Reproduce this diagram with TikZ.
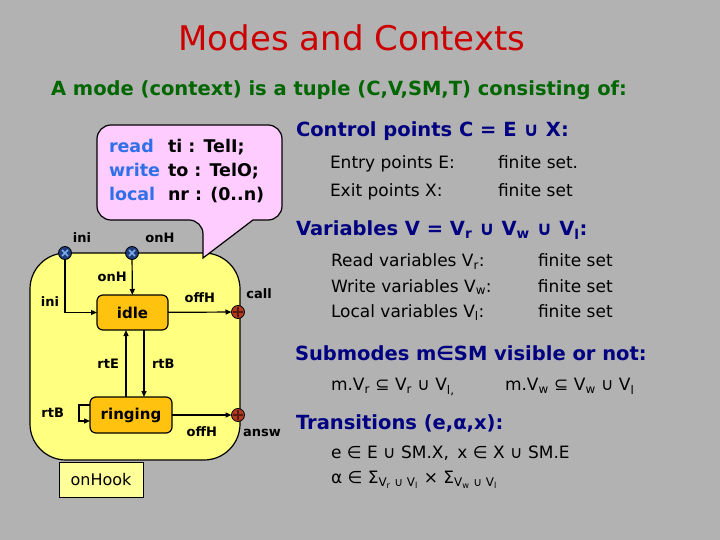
\documentclass[tikz,border=0pt]{standalone}
\usepackage{fontspec}
\setmainfont{DejaVu Sans}
\usepackage{xcolor}
\usetikzlibrary{arrows.meta, positioning}

\definecolor{slidegray}{HTML}{B2B2B2}
\definecolor{titlered}{HTML}{CC0000}
\definecolor{subgreen}{HTML}{006600}
\definecolor{headblue}{HTML}{000080}
\definecolor{keyblue}{HTML}{2F6FE8}
\definecolor{calloutpink}{HTML}{FFCCFF}
\definecolor{modeyellow}{HTML}{FFFF80}
\definecolor{stateorange}{HTML}{FFC20E}
\definecolor{hookyellow}{HTML}{FFFF99}
\definecolor{entrynavy}{HTML}{1F3D7A}
\definecolor{entrylight}{HTML}{7FAAE8}
\definecolor{exitred}{HTML}{B03A20}
\definecolor{exitdark}{HTML}{5A1A10}

\begin{document}
\begin{tikzpicture}[
        x=1pt, y=-1pt,
        every node/.style={inner sep=0pt, outer sep=0pt},
        modebox/.style={draw, line width=1.2pt, fill=modeyellow, rounded corners=36pt, minimum width=210pt, minimum height=207pt},
        statebox/.style={draw, line width=1.2pt, fill=stateorange, rounded corners=6pt, font=\fontsize{15pt}{18pt}\selectfont\bfseries},
        entry/.style={circle, draw, line width=0.8pt, fill=entrynavy, minimum size=13pt,
            path picture={\draw[entrylight, line width=1.6pt] (path picture bounding box.center) ++(-3pt,-3pt) -- ++(6pt,6pt) ++(-6pt,0) -- ++(6pt,-6pt);}},
        exit/.style={circle, draw, line width=0.8pt, fill=exitred, minimum size=13pt,
            path picture={\draw[exitdark, line width=1.4pt] (path picture bounding box.center) ++(-5pt,0) -- ++(10pt,0) ++(-5pt,-5pt) -- ++(0,10pt);}},
        lbl/.style={font=\fontsize{13pt}{15pt}\selectfont\bfseries},
        trans/.style={-{Triangle[length=6pt, width=5pt]}, line width=1.2pt},
        head/.style={anchor=west, text=headblue, font=\fontsize{19.5pt}{22pt}\selectfont\bfseries},
        body/.style={anchor=west, font=\fontsize{17pt}{20pt}\selectfont}
    ]
    \useasboundingbox[fill=slidegray] (0,0) rectangle (720,540);

    % Title
    \node[text=titlered, font=\fontsize{34pt}{40pt}\selectfont] (title) at (352,38) {Modes and Contexts};
    \node[text=subgreen, font=\fontsize{19.5pt}{22pt}\selectfont\bfseries] (subtitle) at (339,90) {A mode (context) is a tuple (C,V,SM,T) consisting of:};

    % Mode
    \node[modebox] (onHookMode) at (135,356.5) {};
    \node[draw, line width=0.6pt, fill=hookyellow, minimum width=84pt, minimum height=35pt, font=\fontsize{16pt}{18pt}\selectfont] (onHook) at (101,479.5) {onHook};

    \node[statebox, minimum width=71pt, minimum height=35pt] (idle) at (132.5,312.5) {idle};
    \node[statebox, minimum width=82pt, minimum height=36pt] (ringing) at (131,415) {ringing};

    \node[entry] (iniE) at (65,253) {};
    \node[entry] (onHE) at (132,253) {};
    \node[exit] (callX) at (238,312) {};
    \node[exit] (answX) at (238,415) {};

    \node[lbl] (iniL) at (82,238) {ini};
    \node[lbl] (onHL) at (160,238) {onH};
    \node[lbl] (callL) at (259,294) {call};
    \node[lbl] (answL) at (262,433) {answ};

    % Transitions
    \draw[trans] (iniE) |- node[lbl, left=6pt, pos=0.4] {ini} (idle);
    \draw[trans] (onHE) -- node[lbl, left=5.5pt] {onH} (idle);
    \draw[trans] (idle) -- node[lbl, above=9pt] {offH} (callX);
    \draw[trans] ([xshift=-5pt]ringing.north) -- node[lbl, left=7pt] {rtE} ([xshift=-5pt]ringing.north |- idle.south);
    \draw[trans] ([xshift=11.5pt]idle.south) -- node[lbl, right=8pt] {rtB} ([xshift=11.5pt]idle.south |- ringing.north);
    \draw[trans] ([yshift=10pt]ringing.west) -- ++(-11pt,0) |- node[lbl, left=15pt, pos=0.25] {rtB} ([yshift=-6pt]ringing.west);
    \draw[trans] (ringing) -- node[lbl, below=12pt] {offH} (answX);

    % Declarations
    \draw[line width=1.2pt, fill=calloutpink, rounded corners=14pt] (253,220) -- (282,220) -- (282,125) -- (97,125) -- (97,220) -- (203,220) [sharp corners] -- (203,258) -- cycle;
    \node[anchor=west, font=\fontsize{17.5pt}{24pt}\selectfont\bfseries] (decls) at (109,172) {%
        \begin{tabular}{@{}p{59pt}@{}l@{}}
        \textcolor{keyblue}{read} & ti : TelI;\\
        \textcolor{keyblue}{write} & to : TelO;\\
        \textcolor{keyblue}{local} & nr : (0..n)
        \end{tabular}};

    % Definition
    \node[head] (ctrlHead) at (296,131) {Control points C = E ∪ X:};
    \node[body, font=\fontsize{17pt}{28pt}\selectfont] (ctrlBody) at (330,177) {%
        \begin{tabular}{@{}p{168pt}@{}l@{}}
        Entry points E: & finite set.\\
        Exit points X: & finite set
        \end{tabular}};
    \node[head] (varHead) at (296,230) {Variables V = V\textsubscript{r} ∪ V\textsubscript{w} ∪ V\textsubscript{l}:};
    \node[body, font=\fontsize{17pt}{25.5pt}\selectfont] (varBody) at (331,287) {%
        \begin{tabular}{@{}p{207pt}@{}l@{}}
        Read variables V\textsubscript{r}: & finite set\\
        Write variables V\textsubscript{w}: & finite set\\
        Local variables V\textsubscript{l}: & finite set
        \end{tabular}};
    \node[head] (subHead) at (295,353) {Submodes m∈SM visible or not:};
    \node[body] (subBody) at (331,387) {\makebox[174pt][l]{m.V\textsubscript{r} ⊆ V\textsubscript{r} ∪ V\textsubscript{l,}}m.V\textsubscript{w} ⊆ V\textsubscript{w} ∪ V\textsubscript{l}};
    \node[head] (transHead) at (296,423) {Transitions (e,α,x):};
    \node[body] (transBody) at (331,453) {e ∈ E ∪ SM.X,\enspace x ∈ X ∪ SM.E};
    \node[body] (labelBody) at (331,480) {α ∈ Σ\textsubscript{V\textsubscript{r} ∪ V\textsubscript{l}} × Σ\textsubscript{V\textsubscript{w} ∪ V\textsubscript{l}}};
\end{tikzpicture}
\end{document}
